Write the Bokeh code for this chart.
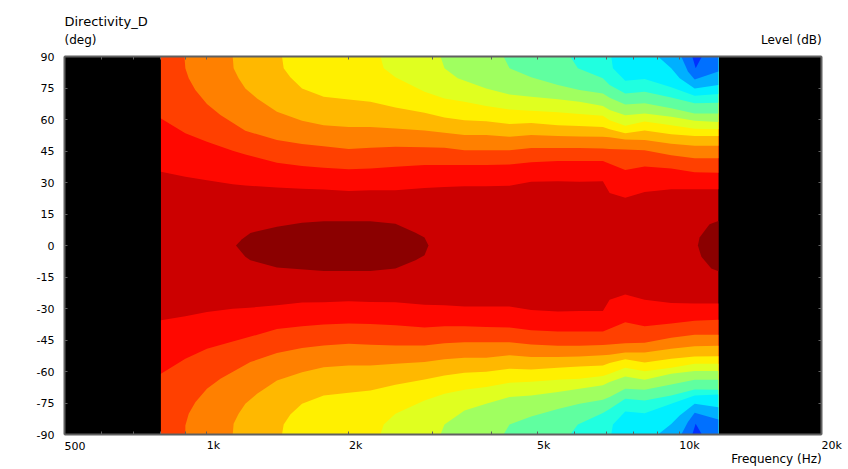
from math import log10

from bokeh.core.properties import value
from bokeh.embed import file_html
from bokeh.layouts import column
from bokeh.resources import INLINE
from bokeh.plotting import figure
from bokeh.models import LinearAxis, LogAxis, FixedTicker, Range1d

# Frequency span of the measured data and of the axis (Hz)
F_MIN, F_MAX = 800, 12100
X_AXIS_MIN, X_AXIS_MAX = 500, 20000
X_TICKS = [500, 600, 700, 800, 900, 1000, 2000, 3000, 4000, 5000, 6000, 7000, 8000, 9000, 10000, 20000]
X_LABEL_HZ = [500, 1000, 2000, 5000, 10000, 20000]
X_LABEL_TEXT = ["500", "1k", "2k", "5k", "10k", "20k"]
Y_TICKS = [-90, -75, -60, -45, -30, -15, 0, 15, 30, 45, 60, 75, 90]

BASE_COLOR = "#CC0000"
CORE_COLOR = "#8B0000"
BAND_COLORS = ["#FF0800", "#FF4000", "#FF8000", "#FFB800", "#FFF000", "#E0FF20", "#A0FF60",
               "#60FFA0", "#20FFE0", "#00F0FF", "#00B0FF", "#0070FF", "#0030FF"]

# Contour lines (Hz, deg): everything outward from each line takes that band's colour.
G = [800, 901, 1001, 1135, 1207, 1408, 1591, 1768, 1998, 2220, 2508, 2890, 3185, 3512, 3903,
     4373, 4860, 5535, 6150, 6892, 7123, 7686, 8447, 9617, 10780, 12100]
TOP_A_DEG = [35.1, 32.7, 31.1, 29.2, 28.6, 27.6, 27, 26.7, 26, 26.3, 26.3, 27.4, 27.9, 28.2, 28.2,
             28.4, 30.3, 30.6, 30.3, 30.6, 25, 22.7, 25.5, 26.8, 26.8, 26.8]
TOP_B_DEG = [60.5, 53.4, 49.4, 45.1, 43.3, 39.4, 37.9, 37, 36.3, 36.7, 37.5, 38.3, 38.3, 38.3, 38.3,
             38.6, 39.7, 40.2, 40.2, 40.2, 38.9, 35.9, 37.6, 36.7, 34.9, 34.6]
BOT_A_DEG = [-35.6, -33.7, -31.7, -30.1, -29.8, -28.5, -27.2, -27, -26.6, -26.9, -27, -28.2, -28.5, -29, -29,
             -29, -30.7, -31.4, -31.2, -31.2, -25.8, -23.3, -25.8, -27.4, -27.6, -27.6]
BOT_B_DEG = [-61.1, -53.9, -49.2, -45.7, -44.1, -39.8, -38.5, -37.6, -37.1, -37.4, -38, -39, -38.5, -38.5, -38.8,
             -39.1, -40.4, -40.9, -40.9, -40.9, -39.6, -36.6, -38.5, -37.2, -35.8, -35.3]

TOP_C_HZ = [897, 901, 916, 946, 1001, 1069, 1207, 1408, 1591, 1768, 1998, 2220, 2508, 2890, 3185, 3512, 3903,
            4373, 4860, 5535, 6150, 6892, 7123, 7686, 8447, 9617, 10780, 12100]
TOP_C_DEG = [90, 84.4, 79.6, 74, 67.4, 62.1, 54.6, 50.2, 48.3, 47.3, 46, 46.5, 47, 46.8, 46.5, 45.4, 45.4,
             45.4, 46.4, 46.4, 46.4, 46.2, 46, 45.7, 45.4, 43, 41.6, 41.6]
BOT_C_HZ = [901, 901, 916, 946, 1001, 1069, 1237, 1408, 1591, 1768, 1998, 2220, 2508, 2890, 3185, 3512, 3903,
            4373, 4860, 5535, 6150, 6892, 7123, 7686, 8447, 9617, 10780, 12100]
BOT_C_DEG = [-90, -85.7, -80.1, -74.6, -68.2, -63.5, -55.5, -51.2, -48.8, -47.6, -46.8, -47.3, -47.6, -47.6,
             -46.5, -46.1, -46.1, -46.1, -47.1, -47.7, -47.7, -47.4, -47.1, -46.6, -46.3, -43.9, -42.5, -42.5]

D_HZ = [1135, 1140, 1168, 1207, 1278, 1408, 1591, 1768, 1998, 2220, 2508, 2890, 3185, 3512, 3903,
        4373, 4860, 5535, 6150, 6892, 7123, 7686, 8447, 9617, 10780, 12100]
TOP_D_DEG = [90, 84.4, 79.6, 74.8, 70, 63.7, 59.4, 57.3, 56.4, 56.4, 55.7, 54.8, 53.7, 52.6, 52.6,
             51.8, 52.6, 52.2, 51.9, 51.8, 51.5, 50.5, 50.2, 48.4, 47.5, 47.5]
BOT_D_DEG = [-90, -84.9, -80.1, -75.4, -70.6, -64.3, -60.3, -58, -57.1, -57.1, -56.3, -55.5, -54.2, -53.4, -53.4,
             -52.3, -53.1, -53.1, -52.8, -52.3, -52, -51, -50.9, -49.2, -48, -47.7]

E_HZ = [1443, 1455, 1503, 1591, 1768, 1998, 2220, 2508, 2890, 3185, 3512, 3903,
        4373, 4860, 5535, 6150, 6892, 7123, 7686, 8447, 9617, 10780, 12100]
TOP_E_DEG = [90, 84.4, 80.1, 74.8, 70.8, 69.5, 68.4, 65.7, 63.2, 61, 59.7, 59.2,
             57.8, 58.3, 57.3, 56.9, 56.4, 55.3, 53.4, 54.8, 53, 52.1, 52.1]
BOT_E_DEG = [-90, -85.2, -80.5, -75.4, -71.4, -70.1, -69, -66.3, -63.8, -61.9, -60.6, -60.1,
             -58.7, -59, -58.2, -57.6, -57.1, -56, -54.2, -55.7, -53.9, -52.8, -52.7]

F_HZ = [2331, 2369, 2508, 2890, 3185, 3512, 3903, 4373, 4860, 5535, 6150, 6892, 7123, 7686, 8447, 9617, 10780, 12100]
TOP_F_DEG = [90, 84.4, 80.1, 73.2, 70, 68.5, 66.4, 64.8, 64.2, 63.4, 62.6, 61.8, 59.7, 57, 59.1, 57.3, 55.6, 55.3]
BOT_F_DEG = [-90, -85.2, -80.1, -73.8, -70.6, -68.7, -67.4, -65.4, -64.9, -63.9, -63.5, -62.2, -61.1, -58.2, -59.9,
             -58.2, -56.3, -56.3]

TOP_G_HZ = [3124, 3185, 3398, 3903, 4373, 4860, 5535, 6150, 6892, 7123, 7686, 8447, 9617, 10780, 12100]
TOP_G_DEG = [90, 84.4, 79.6, 74.8, 71.9, 70.8, 69.7, 68.5, 66.4, 64.5, 62, 62.9, 61.3, 59.4, 58.8]
BOT_G_HZ = [3124, 3185, 3512, 3903, 4373, 4860, 5535, 6150, 6892, 7123, 7686, 8447, 9617, 10780, 12100]
BOT_G_DEG = [-90, -85.2, -78.6, -75.4, -72.2, -71.4, -69.8, -68.2, -66.6, -65, -62.4, -63.9, -61.1, -59.8, -59.8]

H_HZ = [4247, 4373, 4860, 5535, 6150, 6892, 7123, 7686, 8447, 9617, 10780, 12100]
TOP_H_DEG = [90, 84.4, 80.1, 76.4, 74, 72.4, 70.4, 67.2, 67.7, 65.3, 62.9, 62.9]
BOT_H_DEG = [-90, -85.2, -81.4, -77.8, -75.4, -73.5, -72.2, -68.2, -68.7, -66.2, -63.9, -63.9]

I_HZ = [5877, 6102, 6892, 7123, 7686, 8447, 9617, 10780, 12100]
TOP_I_DEG = [90, 84.4, 79.6, 76.4, 72.4, 73.2, 70.5, 67.7, 68]
BOT_I_DEG = [-90, -85.2, -79.8, -77.8, -73, -73.8, -71.4, -68.6, -68.7]

J_HZ = [7179, 7238, 7686, 8447, 9617, 10780, 12100]
TOP_J_DEG = [90, 84.4, 78.5, 79.3, 75.3, 71.3, 72.1]
BOT_J_DEG = [-90, -85.2, -79.1, -79.9, -75.4, -71.4, -70.9]

K_HZ = [9014, 9617, 10020, 10780, 12100]
TOP_K_DEG = [90, 84.4, 79.6, 74.8, 76.4]
BOT_K_DEG = [-90, -85, -81, -75.4, -77]

L_HZ = [10100, 10430, 10780, 12100]
TOP_L_DEG = [90, 82.8, 79.1, 82.8]
BOT_L_DEG = [-90, -84.1, -79.7, -82.9]

M_HZ = [10654, 10832, 11168]
TOP_M_DEG = [90, 84.4, 90]
BOT_M_DEG = [-90, -84.9, -90]

# Closed peak regions around the axis
CORE1_HZ = [1153, 1187, 1237, 1408, 1591, 1768, 2220, 2508, 2766, 2890, 2946,
            2890, 2766, 2508, 2220, 1768, 1408, 1237, 1207]
CORE1_DEG = [0, 3, 6, 8.9, 10.8, 11.6, 11.6, 10.4, 6.1, 3.8, 0, -4.6, -7, -11, -12.1, -12.1, -10.5, -7, -5.4]
CORE2_HZ = [12100, 11590, 11040, 10950, 11140, 11690, 12100]
CORE2_DEG = [11.7, 10.1, 3.8, 0, -5.4, -11, -12.3]

TOP = [(G, TOP_A_DEG), (G, TOP_B_DEG), (TOP_C_HZ, TOP_C_DEG), (D_HZ, TOP_D_DEG), (E_HZ, TOP_E_DEG),
       (F_HZ, TOP_F_DEG), (TOP_G_HZ, TOP_G_DEG), (H_HZ, TOP_H_DEG), (I_HZ, TOP_I_DEG), (J_HZ, TOP_J_DEG),
       (K_HZ, TOP_K_DEG), (L_HZ, TOP_L_DEG), (M_HZ, TOP_M_DEG)]
BOT = [(G, BOT_A_DEG), (G, BOT_B_DEG), (BOT_C_HZ, BOT_C_DEG), (D_HZ, BOT_D_DEG), (E_HZ, BOT_E_DEG),
       (F_HZ, BOT_F_DEG), (BOT_G_HZ, BOT_G_DEG), (H_HZ, BOT_H_DEG), (I_HZ, BOT_I_DEG), (J_HZ, BOT_J_DEG),
       (K_HZ, BOT_K_DEG), (L_HZ, BOT_L_DEG), (M_HZ, BOT_M_DEG)]

FONT = "DejaVu Sans"
TICK_SIZE = "11px"
TITLE_SIZE = "13px"
CAPTION_SIZE = "12px"
TXT = "#000000"
FRAME = "#606060"
LEFT, RIGHT = 64, 24
FRAME_W, FRAME_H = 757, 378
GAP_TOP, GAP_BOTTOM = 4, 6
HEAD_H, FOOT_H = 52, 28
TOTAL_W = LEFT + FRAME_W + RIGHT

p = figure(x_axis_type="log", x_range=Range1d(X_AXIS_MIN, X_AXIS_MAX), y_range=Range1d(-90, 90),
           frame_width=FRAME_W, frame_height=FRAME_H, width=TOTAL_W,
           height=FRAME_H + GAP_TOP + GAP_BOTTOM, frame_align=False,
           min_border_left=LEFT, min_border_right=RIGHT, min_border_top=GAP_TOP, min_border_bottom=GAP_BOTTOM,
           toolbar_location=None, output_backend="svg", background_fill_color="#000000",
           border_fill_color="#FFFFFF", outline_line_color=None)
p.xgrid.visible = False
p.ygrid.visible = False
p.xaxis.visible = False
p.yaxis.visible = False


def outer_polygon(hz, deg, edge):
    xs, ys = list(hz), list(deg)
    if xs[-1] == F_MAX:
        xs.append(F_MAX)
        ys.append(edge)
    if xs[0] == F_MIN:
        xs.append(F_MIN)
        ys.append(edge)
    return xs, ys


p.patch([F_MIN, F_MAX, F_MAX, F_MIN], [-90, -90, 90, 90], fill_color=BASE_COLOR, line_color=None)
for contours, edge in ((TOP, 90), (BOT, -90)):
    for (hz, deg), colour in zip(contours, BAND_COLORS):
        xs, ys = outer_polygon(hz, deg, edge)
        p.patch(xs, ys, fill_color=colour, line_color=None)
p.patch(CORE1_HZ, CORE1_DEG, fill_color=CORE_COLOR, line_color=None)
p.patch(CORE2_HZ, CORE2_DEG, fill_color=CORE_COLOR, line_color=None)


def style(ax):
    ax.axis_line_color = FRAME
    ax.axis_line_width = 2
    ax.major_tick_line_color = FRAME
    ax.major_tick_line_width = 1
    ax.major_tick_in = 3
    ax.major_tick_out = 0
    ax.minor_tick_line_color = None
    ax.major_label_text_font = FONT
    ax.major_label_text_font_size = TICK_SIZE
    ax.major_label_text_color = TXT


def blank(ax):
    ax.major_label_text_font_size = "1px"
    ax.major_label_standoff = 0


xt = FixedTicker(ticks=X_TICKS)
yt = FixedTicker(ticks=Y_TICKS)
blank_x = {t: "" for t in X_TICKS}
blank_y = {t: "" for t in Y_TICKS}

bottom = LogAxis(ticker=xt, major_label_overrides=blank_x)
style(bottom)
blank(bottom)
p.add_layout(bottom, "below")
top = LogAxis(ticker=xt, major_label_overrides=blank_x)
style(top)
blank(top)
p.add_layout(top, "above")
left = LinearAxis(ticker=yt, major_label_overrides={t: str(t) for t in Y_TICKS})
style(left)
left.major_label_standoff = 10
p.add_layout(left, "left")
right = LinearAxis(ticker=yt, major_label_overrides=blank_y)
style(right)
blank(right)
p.add_layout(right, "right")

# The text bands span the whole width, so their log range is the plot's range carried on to the page edges.
PX_PER_DECADE = FRAME_W / log10(X_AXIS_MAX / X_AXIS_MIN)
STRIP_MIN = X_AXIS_MIN * 10 ** (-LEFT / PX_PER_DECADE)
STRIP_MAX = X_AXIS_MAX * 10 ** (RIGHT / PX_PER_DECADE)


def strip(h):
    # a white band above or below the plot; its y range runs in pixels from its top
    s = figure(x_axis_type="log", x_range=Range1d(STRIP_MIN, STRIP_MAX), y_range=Range1d(h, 0),
               frame_width=TOTAL_W, frame_height=h, width=TOTAL_W, height=h, frame_align=False,
               min_border_left=0, min_border_right=0, min_border_top=0, min_border_bottom=0,
               toolbar_location=None, output_backend="svg", outline_line_color=None,
               background_fill_color="#FFFFFF", border_fill_color="#FFFFFF")
    s.xaxis.visible = False
    s.yaxis.visible = False
    s.xgrid.visible = False
    s.ygrid.visible = False
    return s


def put(s, x, y, text, size, align="left", x_offset=0):
    s.text(x=[x], y=[y], text=[text], text_align=align, text_baseline="middle", x_offset=x_offset,
           text_font=value(FONT), text_font_size=value(size), text_color=TXT)


head = strip(HEAD_H)
put(head, X_AXIS_MIN, 21, "Directivity_D", TITLE_SIZE)
put(head, X_AXIS_MIN, 39, "(deg)", CAPTION_SIZE)
put(head, X_AXIS_MAX, 39, "Level  (dB)", CAPTION_SIZE, "right", 4)

foot = strip(FOOT_H)
for hz, text in zip(X_LABEL_HZ, X_LABEL_TEXT):
    put(foot, hz, 5, text, TICK_SIZE)
put(foot, X_AXIS_MAX, 18, "Frequency  (Hz)", CAPTION_SIZE, "right", 4)

open("out.html", "w").write(file_html(column(head, p, foot, spacing=0), INLINE))
